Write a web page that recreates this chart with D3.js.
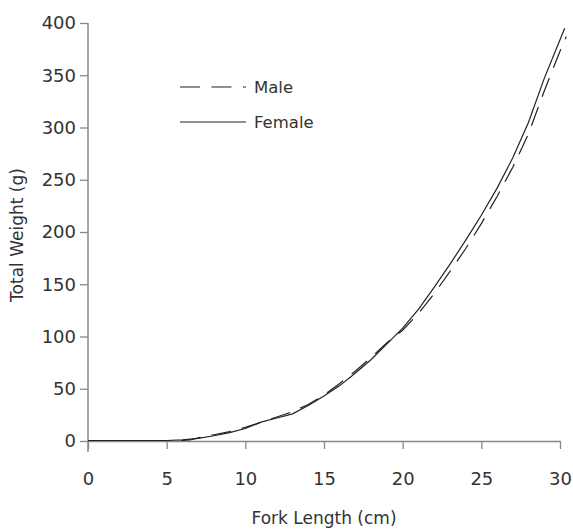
<!DOCTYPE html>
<html>
<head>
<meta charset="utf-8">
<script src="https://cdn.jsdelivr.net/npm/d3@7"></script>
<style>
  body { margin: 0; background: #fff; }
  text { font-family: "DejaVu Sans", sans-serif; fill: #333; }
</style>
</head>
<body>
<div id="chart"></div>
<script>
// fork length (cm) and total weight (g)
var femaleLength = [0, 1, 2, 3, 4, 5, 6, 7, 8, 9, 10, 11, 12, 13, 14, 15, 16, 17, 18, 19, 20, 21, 22, 23, 24, 25, 26, 27, 28, 29, 30, 30.3];
var femaleWeight = [0.5, 0.5, 0.5, 0.5, 0.5, 0.5, 1, 2.5, 5, 8, 12, 18, 22, 26, 34, 43, 53, 65, 78, 93, 108, 126, 147, 169, 192, 216, 242, 271, 305, 347, 384, 395];

var maleLength = [0, 1, 2, 3, 4, 5, 6, 6.5, 7, 8, 9, 10, 11, 12, 13, 14, 15, 16, 17, 18, 19, 20, 21, 22, 23, 24, 25, 26, 27, 28, 29, 30, 30.4];
var maleWeight = [0.5, 0.5, 0.5, 0.5, 0.5, 0.5, 0.5, 1, 3, 6, 9, 13, 18, 23, 28, 35, 44, 55, 67, 80, 94, 106, 122, 141, 162, 184, 208, 234, 262, 294, 335, 373, 387];

var xTicks = [0, 5, 10, 15, 20, 25, 30];
var yTicks = [0, 50, 100, 150, 200, 250, 300, 350, 400];

var width = 573, height = 531;
var margin = {top: 23, bottom: 90, left: 88, right: 13};

var svg = d3.select("#chart")
    .append("svg")
    .attr("width", width)
    .attr("height", height);

var xScale = d3.scaleLinear()
    .domain([0, 30])
    .range([margin.left, width - margin.right]);

var yScale = d3.scaleLinear()
    .domain([0, 400])
    .range([height - margin.bottom, margin.top]);

// x axis
var xAxis = svg.append("g")
    .attr("transform", `translate(0, ${yScale(0)})`)
    .call(d3.axisBottom(xScale).tickValues(xTicks).tickSize(8).tickPadding(23).tickSizeOuter(0));

// y axis, the line runs a bit below the x axis
var yAxis = svg.append("g")
    .attr("transform", `translate(${margin.left}, 0)`)
    .call(d3.axisLeft(yScale).tickValues(yTicks).tickSize(8).tickPadding(4).tickSizeOuter(0));

yAxis.select(".domain").remove();
yAxis.append("line")
    .attr("x1", 0).attr("x2", 0)
    .attr("y1", yScale(400))
    .attr("y2", yScale(0) + 11)
    .attr("stroke", "#888")
    .attr("stroke-width", 1.5);

svg.selectAll(".tick line").attr("stroke", "#888").attr("stroke-width", 1.3);
xAxis.select(".domain").attr("stroke", "#888").attr("stroke-width", 1.5);
svg.selectAll(".tick text")
    .style("font-family", "DejaVu Sans, sans-serif")
    .style("font-size", "18px")
    .attr("fill", "#333");

// axis titles
svg.append("text")
    .attr("x", (xScale(0) + xScale(30)) / 2)
    .attr("y", 524)
    .attr("text-anchor", "middle")
    .style("font-size", "17px")
    .text("Fork Length (cm)");

svg.append("text")
    .attr("transform", `translate(23, ${(yScale(0) + yScale(400)) / 2 + 3}) rotate(-90)`)
    .attr("text-anchor", "middle")
    .style("font-size", "17px")
    .text("Total Weight (g)");

// curves
var line = d3.line()
    .x(function(d){ return xScale(d[0]); })
    .y(function(d){ return yScale(d[1]); });

var female = femaleLength.map(function(l, i){ return [l, femaleWeight[i]]; });
var male = maleLength.map(function(l, i){ return [l, maleWeight[i]]; });

svg.append("path")
    .datum(female)
    .attr("d", line)
    .attr("fill", "none")
    .attr("stroke", "#222")
    .attr("stroke-width", 1.2);

svg.append("path")
    .datum(male)
    .attr("d", line)
    .attr("fill", "none")
    .attr("stroke", "#222")
    .attr("stroke-width", 1.2)
    .attr("stroke-dasharray", "20,11");

// legend
var legend = svg.append("g");

legend.append("line")
    .attr("x1", 180).attr("x2", 246)
    .attr("y1", 87).attr("y2", 87)
    .attr("stroke", "#222")
    .attr("stroke-width", 1.2)
    .attr("stroke-dasharray", "20,11.5");

legend.append("text")
    .attr("x", 254).attr("y", 93)
    .style("font-size", "16.5px")
    .text("Male");

legend.append("line")
    .attr("x1", 180).attr("x2", 246)
    .attr("y1", 122).attr("y2", 122)
    .attr("stroke", "#222")
    .attr("stroke-width", 1.2);

legend.append("text")
    .attr("x", 254).attr("y", 128)
    .style("font-size", "16.5px")
    .text("Female");
</script>
</body>
</html>
